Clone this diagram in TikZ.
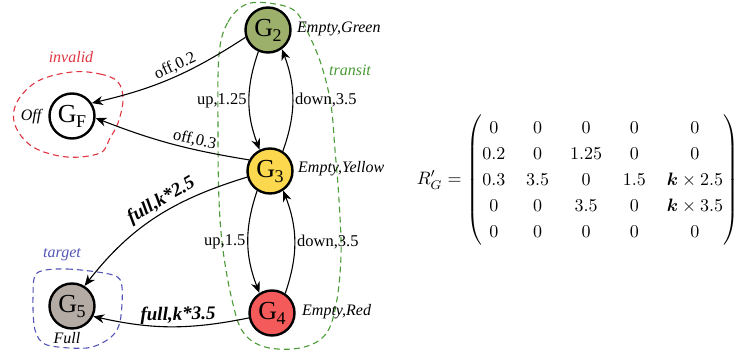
\documentclass[tikz,border=0pt]{standalone}
\usepackage{amsmath}
\usepackage{bm}
\usepackage{fontspec}
\setmainfont{Liberation Serif}
\usetikzlibrary{arrows.meta}
\definecolor{cGreen}{HTML}{9DB06B}
\definecolor{cYellow}{HTML}{FCD84E}
\definecolor{cRed}{HTML}{F55A5A}
\definecolor{cGrey}{HTML}{B5ABA5}
\definecolor{rInvalid}{HTML}{E03540}
\definecolor{gTransit}{HTML}{4A9A35}
\definecolor{bTarget}{HTML}{5555B5}
\newcommand\Gsub[1]{G\kern-0.5pt\raisebox{-5pt}{\fontsize{18}{18}\selectfont #1}}
\begin{document}
\begin{tikzpicture}[x=1pt,y=-1pt,
  state/.style={circle, draw, line width=2.4pt, minimum size=45pt, inner sep=0pt,
    font=\fontsize{26}{26}\selectfont},
  lab/.style={font=\fontsize{16}{16}\selectfont\itshape, inner sep=0pt},
  el/.style={font=\fontsize{16.5}{16.5}\selectfont, inner sep=2pt},
  elb/.style={font=\fontsize{19}{19}\selectfont\bfseries\itshape, inner sep=2pt},
  arc/.style={line width=1.1pt, -{Stealth[length=11pt,width=9pt,inset=3.5pt]}},
  region/.style={line width=1.1pt, dash pattern=on 6pt off 4pt}]
\useasboundingbox (0,0) rectangle (739,358);

% regions
\draw[region, rInvalid] plot[smooth cycle, tension=0.6] coordinates {
  (72,72) (100,74) (118,82) (123,100) (118,123) (110,138) (100,153) (67,157)
  (33,147) (15,125) (17,102) (38,81)};
\draw[region, gTransit] plot[smooth cycle, tension=0.6] coordinates {
  (219,55) (228,22) (247,4) (275,4) (296,12) (310,37) (322,67) (331,105)
  (335,150) (339,200) (341,255) (336,305) (325,335) (300,348) (265,347)
  (243,332) (232,300) (223,250) (219,200) (218,130)};
\draw[region, bTarget] plot[smooth cycle, tension=0.5] coordinates {
  (37,273) (67,269) (113,275) (122,287) (120,322) (110,338) (87,348)
  (47,345) (35,330) (33,297)};

\node[lab, text=rInvalid] (tInv) at (71,57) {invalid};
\node[lab, text=gTransit] (tTra) at (350,70) {transit};
\node[lab, text=bTarget] (tTar) at (62,255) {target};

% states
\node[state, fill=white] (GF) at (72,116) {\Gsub{F}};
\node[state, fill=cGreen] (G2) at (268,30) {\Gsub{2}};
\node[state, fill=cYellow] (G3) at (270,171) {\Gsub{3}};
\node[state, fill=cRed] (G4) at (272,313) {\Gsub{4}};
\node[state, fill=cGrey] (G5) at (72,306) {\Gsub{5}};

\node[lab, anchor=west] (l2) at (297,29) {Empty,Green};
\node[lab, anchor=west] (l3) at (298,169) {Empty,Yellow};
\node[lab, anchor=west] (l4) at (302,312) {Empty,Red};
\node[lab] (lF) at (31,117) {Off};
\node[lab] (l5) at (67,338) {Full};

% transitions
\draw[arc] (G2.198) to[bend left=10] node[el, sloped, above, pos=0.45] {off,0.2} (GF.33);
\draw[arc] (G3.152) to[bend left=6] node[el, sloped, above, pos=0.35] {off,0.3} (GF.-5);
\draw[arc] (G2.246) to[bend right=20] node[el, left, pos=0.5] {up,1.25} (G3.116);
\draw[arc] (G3.57) to[bend right=20] node[el, right, pos=0.5] {down,3.5} (G2.-54);
\draw[arc] (G3.237) to[bend right=20] node[el, left, pos=0.5] {up,1.5} (G4.122);
\draw[arc] (G4.56) to[bend right=20] node[el, right, pos=0.5] {down,3.5} (G3.-56);
\draw[arc] (G3.195) to[out=197, in=52] node[elb, sloped, above, pos=0.43] {full,k*2.5} (G5.58);
\draw[arc] (G4.192) to[bend left=12] node[elb, sloped, above, pos=0.45] {full,k*3.5} (G5.-26);

% matrix
\node[anchor=east, inner sep=0pt] (M) at (739,180) {\scalebox{1.8}{%
  \setlength\arraycolsep{5.8pt}\renewcommand\arraystretch{1.2}%
  $R'_G=\begin{pmatrix}
  0 & 0 & 0 & 0 & 0\\
  0.2 & 0 & 1.25 & 0 & 0\\
  0.3 & 3.5 & 0 & 1.5 & \bm{k}\times 2.5\\
  0 & 0 & 3.5 & 0 & \bm{k}\times 3.5\\
  0 & 0 & 0 & 0 & 0
  \end{pmatrix}$}};
\end{tikzpicture}
\end{document}
